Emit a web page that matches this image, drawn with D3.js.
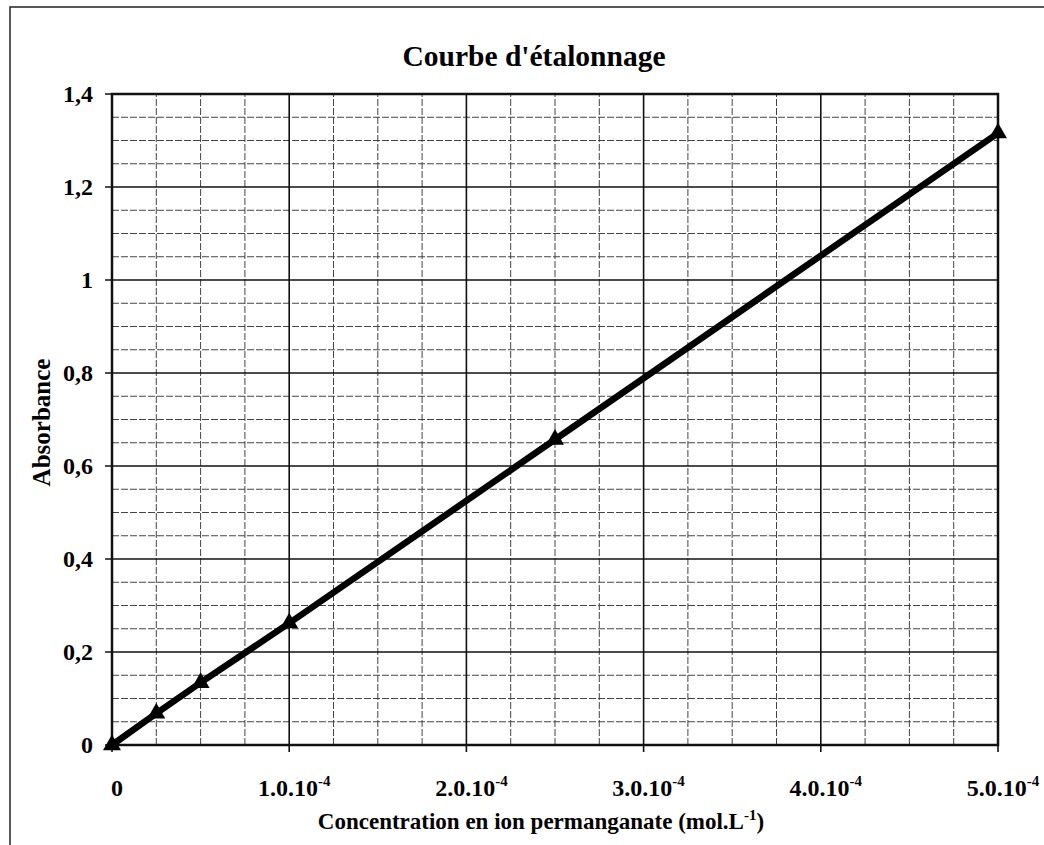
<!DOCTYPE html>
<html>
<head>
<meta charset="utf-8">
<script src="https://cdn.jsdelivr.net/npm/d3@7"></script>
<style>
  body { margin: 0; background: #fff; }
  svg { display: block; font-family: "Liberation Serif", "Times New Roman", serif; font-weight: bold; }
</style>
</head>
<body>
<div class="chart"></div>
<script>
// data
const concentration = [0, 0.25e-4, 0.5e-4, 1e-4, 2.5e-4, 5e-4];
const absorbance = [0, 0.068, 0.134, 0.262, 0.657, 1.316];

const xTicks = [0, 1e-4, 2e-4, 3e-4, 4e-4, 5e-4];
const xTickBase = ['0', '1.0.10', '2.0.10', '3.0.10', '4.0.10', '5.0.10'];
const xTickExp = ['', '-4', '-4', '-4', '-4', '-4'];
const yTicks = [0, 0.2, 0.4, 0.6, 0.8, 1, 1.2, 1.4];
const yTickLabels = ['0', '0,2', '0,4', '0,6', '0,8', '1', '1,2', '1,4'];

const width = 1044;
const height = 845;
const margin = {left: 112, right: 46, top: 94, bottom: 100};

const svg = d3.select('.chart').append('svg')
    .attr('width', width)
    .attr('height', height);

// outer frame (runs off the right and bottom of the picture)
svg.append('rect')
    .attr('x', 10).attr('y', 7)
    .attr('width', 1060).attr('height', 870)
    .attr('fill', 'none')
    .attr('stroke', '#222')
    .attr('stroke-width', 1.5);

const x = d3.scaleLinear()
    .domain([0, 5e-4])
    .range([margin.left, width - margin.right]);

const y = d3.scaleLinear()
    .domain([0, 1.4])
    .range([height - margin.bottom, margin.top]);

const g = svg.append('g');

// minor grid, dashed
const minorX = d3.range(0, 5e-4 + 1e-9, 0.25e-4).filter((d, i) => i % 4 !== 0);
const minorY = d3.range(0, 1.4 + 1e-9, 0.05).filter((d, i) => i % 4 !== 0);

g.selectAll('.minor-x').data(minorX).join('line')
    .attr('x1', d => x(d)).attr('x2', d => x(d))
    .attr('y1', y(0)).attr('y2', y(1.4))
    .attr('stroke', '#444')
    .attr('stroke-width', 1)
    .attr('stroke-dasharray', '7,2');

g.selectAll('.minor-y').data(minorY).join('line')
    .attr('x1', x(0)).attr('x2', x(5e-4))
    .attr('y1', d => y(d)).attr('y2', d => y(d))
    .attr('stroke', '#444')
    .attr('stroke-width', 1)
    .attr('stroke-dasharray', '7,2');

// major grid, solid
g.selectAll('.major-x').data(xTicks).join('line')
    .attr('x1', d => x(d)).attr('x2', d => x(d))
    .attr('y1', y(0) + 7).attr('y2', y(1.4))
    .attr('stroke', '#111')
    .attr('stroke-width', 1.6);

g.selectAll('.major-y').data(yTicks).join('line')
    .attr('x1', x(0) - 7).attr('x2', x(5e-4))
    .attr('y1', d => y(d)).attr('y2', d => y(d))
    .attr('stroke', '#111')
    .attr('stroke-width', 1.6);

// plot frame
g.append('rect')
    .attr('x', x(0)).attr('y', y(1.4))
    .attr('width', x(5e-4) - x(0))
    .attr('height', y(0) - y(1.4))
    .attr('fill', 'none')
    .attr('stroke', '#111')
    .attr('stroke-width', 2.5);

// y tick labels
g.selectAll('.ylab').data(yTicks).join('text')
    .attr('x', x(0) - 19)
    .attr('y', d => y(d))
    .attr('dy', '0.35em')
    .attr('text-anchor', 'end')
    .style('font-size', '24px')
    .text((d, i) => yTickLabels[i]);

// x tick labels with superscript exponent
const xl = g.selectAll('.xlab').data(xTicks).join('text')
    .attr('x', d => x(d) + 5)
    .attr('y', y(0) + 51)
    .attr('text-anchor', 'middle')
    .style('font-size', '24px');
xl.append('tspan').text((d, i) => xTickBase[i]);
xl.append('tspan')
    .attr('dy', -10)
    .style('font-size', '15px')
    .text((d, i) => xTickExp[i]);

// line + markers
const pts = concentration.map((c, i) => [c, absorbance[i]]);

g.append('path')
    .datum(pts)
    .attr('fill', 'none')
    .attr('stroke', '#000')
    .attr('stroke-width', 6.5)
    .attr('stroke-linejoin', 'round')
    .attr('d', d3.line().x(d => x(d[0])).y(d => y(d[1])));

g.selectAll('.marker').data(pts).join('path')
    .attr('transform', d => `translate(${x(d[0])},${y(d[1])})`)
    .attr('d', d3.symbol().type(d3.symbolTriangle).size(140))
    .attr('fill', '#000');

// titles
svg.append('text')
    .attr('x', 534)
    .attr('y', 66)
    .attr('text-anchor', 'middle')
    .style('font-size', '29.5px')
    .text("Courbe d'étalonnage");

const xt = svg.append('text')
    .attr('x', 541)
    .attr('y', 829)
    .attr('text-anchor', 'middle')
    .style('font-size', '23px');
xt.append('tspan').text('Concentration en ion permanganate (mol.L');
xt.append('tspan').attr('dy', -9).style('font-size', '15px').text('-1');
xt.append('tspan').attr('dy', 9).text(')');

svg.append('text')
    .attr('transform', `translate(50,${(y(0) + y(1.4)) / 2 + 3}) rotate(-90)`)
    .attr('text-anchor', 'middle')
    .style('font-size', '25px')
    .text('Absorbance');
</script>
</body>
</html>
